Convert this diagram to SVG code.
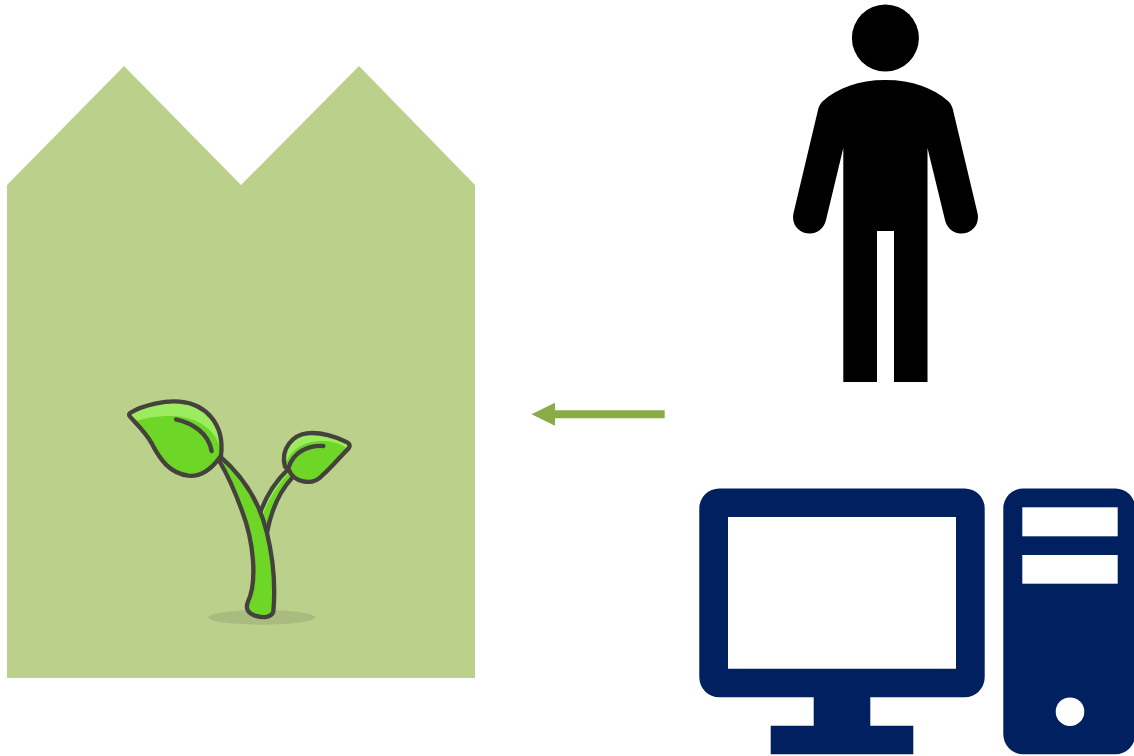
<svg xmlns="http://www.w3.org/2000/svg" width="1134" height="756" viewBox="0 0 1134 756">
<style>
.navy{fill:#002060}
.hole{fill:#fff}
.ol{stroke:#45413c;stroke-width:13;stroke-linecap:round;stroke-linejoin:round;fill:none}
.leaf{fill:#6dd627}
.lite{fill:#9ceb60}
</style>
<defs>
<marker id="arrow" markerUnits="userSpaceOnUse" markerWidth="24" markerHeight="24" refX="0" refY="12" orient="auto">
<path d="M0,0.500L23.500,12L0,23.500Z" fill="#8aac46"/>
</marker>
</defs>
<rect width="1134" height="756" fill="#fff"/>
<g id="greenhouse">
<polygon points="7,185 124,66 241,185 359,66 475,185 475,678 7,678" fill="#bbd18b"/>
</g>
<g id="sprout" transform="translate(110 385) scale(.33333)">
<ellipse cx="455" cy="697" rx="160" ry="22" fill="#45413c" opacity=".15"/>
<path class="leaf" d="M535,252C495,290 465,340 448,400L470,450C478,390 500,330 545,280Z"/>
<path class="lite" d="M530,258C495,295 468,340 452,392L458,392C475,345 500,305 538,262Z"/>
<path class="ol" d="M535,252C495,290 465,340 448,390M545,280C500,330 480,390 470,450"/>
<path class="leaf" d="M330,218C395,270 445,340 470,440C490,520 497,600 490,680C485,697 460,700 435,692C415,685 405,672 414,650C442,590 432,470 395,375C375,320 350,265 328,228Z"/>
<path class="lite" d="M330,220C385,270 430,335 462,425L447,380C420,325 385,270 330,220Z"/>
<path class="ol" d="M330,214C395,270 445,340 470,440C490,520 497,600 490,680C485,697 460,700 435,692C415,685 405,672 414,650C442,590 432,470 395,375C375,320 350,265 328,228"/>
<path class="leaf" d="M60,84C100,60 170,45 210,50C285,57 345,115 333,212C300,260 265,275 235,272C180,265 150,225 125,175C105,140 80,118 60,95C57,91 57,87 60,84Z"/>
<path class="lite" d="M60,84C100,60 170,45 210,50C285,57 345,115 330,185C310,125 250,92 180,93C135,93 100,100 72,110Z"/>
<path class="ol" d="M60,84C100,60 170,45 210,50C285,57 345,115 333,212C300,260 265,275 235,272C180,265 150,225 125,175C105,140 80,118 60,95C57,91 57,87 60,84Z"/>
<path class="ol" d="M198,103C250,115 295,145 305,198"/>
<path class="leaf" d="M712,172C680,155 630,140 590,145C550,150 510,190 525,245L537,255C550,290 605,305 636,272C662,250 690,215 716,190C721,184 720,176 712,172Z"/>
<path class="lite" d="M712,172C680,155 630,140 590,145C550,150 515,190 528,235C540,195 585,165 640,168C665,168 690,175 710,190Z"/>
<path class="ol" d="M712,172C680,155 630,140 590,145C550,150 510,190 525,245L537,255C550,290 605,305 636,272C662,250 690,215 716,190C721,184 720,176 712,172Z"/>
<path class="ol" d="M640,183C590,180 550,205 537,245"/>
</g>
<g id="person">
<circle cx="885.400" cy="38" r="33.500"/>
<path d="M885.400,80C858,80 838,88 823,101C820,104 819,106 818,110L794,211C790,224 799,233.500 810,233.500C818,233.500 824,228 826,220L843.300,148V382H877V231H894V382H927.500V148L945,220C947,228 953,233.500 961,233.500C972,233.500 981,224 977,211L953,110C952,106 951,104 948,101C933,88 913,80 885.400,80Z"/>
</g>
<g id="computer">
<path class="navy" fill-rule="evenodd" d="M719.300,488.500H964.700A20,20 0 0 1 984.700,508.500V677.300A20,20 0 0 1 964.700,697.300H870.300V725.700H913.300V754.300H770.700V725.700H813.700V697.300H719.300A20,20 0 0 1 699.300,677.300V508.500A20,20 0 0 1 719.300,488.500ZM728,517V668.700H956V517Z"/>
<rect class="navy" x="1003.300" y="488.500" width="132" height="265.800" rx="20"/>
<rect class="hole" x="1022.300" y="507.300" width="95.400" height="29"/>
<rect class="hole" x="1022.300" y="555" width="95.400" height="28.700"/>
<circle class="hole" cx="1070" cy="711.700" r="14.300"/>
</g>
<g id="connectors">
<line x1="664.700" y1="414.300" x2="555" y2="414.300" stroke="#8aac46" stroke-width="8" marker-end="url(#arrow)"/>
</g>
</svg>
